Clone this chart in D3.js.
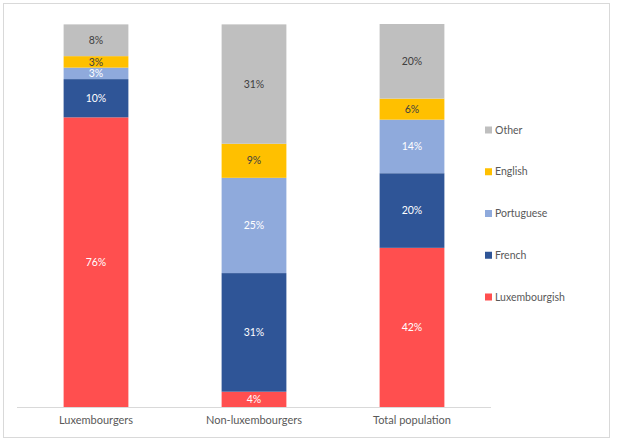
<!DOCTYPE html>
<html><head><meta charset="utf-8">
<script src="https://cdn.jsdelivr.net/npm/d3@7"></script>
<style>body{margin:0;background:#fff}svg{display:block}</style>
</head><body>
<svg id="c" width="621" height="446"></svg>
<script>
const categories = ["Luxembourgers", "Non-luxembourgers", "Total population"];
const seriesNames = ["Luxembourgish", "French", "Portuguese", "English", "Other"];
const luxembourgish = [75.7, 4.0, 41.6];
const french = [10.0, 31.0, 19.5];
const portuguese = [3.0, 24.9, 14.0];
const english = [3.0, 8.9, 5.5];
const other = [8.3, 31.2, 19.5];
const colors = ["#FF4F4F", "#2F5597", "#8FAADC", "#FFC000", "#BFBFBF"];
const labelColors = ["#ffffff", "#ffffff", "#ffffff", "#404040", "#404040"];

const seriesValues = [luxembourgish, french, portuguese, english, other];
const rows = categories.map((c, i) => {
  const r = {cat: c};
  seriesNames.forEach((s, j) => r[s] = seriesValues[j][i]);
  return r;
});
const stack = d3.stack().keys(seriesNames)(rows);
const maxSum = d3.max(rows, r => d3.sum(seriesNames, s => r[s]));

const svg = d3.select("#c");
const font = "Lato, 'Open Sans', sans-serif";

svg.append("rect").attr("x", 3.5).attr("y", 3.5).attr("width", 606).attr("height", 434)
  .attr("fill", "#fff").attr("stroke", "#D9D9D9").attr("stroke-width", 1);

const x = d3.scaleBand().domain(categories).range([17, 491]).paddingInner(0.59).paddingOuter(0.295);
const y = d3.scaleLinear().domain([0, maxSum]).range([407, 24]);

const g = svg.append("g");
stack.forEach((layer, j) => {
  const key = seriesNames[j];
  g.selectAll(null).data(layer).enter().append("rect")
    .attr("x", d => x(d.data.cat))
    .attr("width", x.bandwidth())
    .attr("y", d => y(d[1]))
    .attr("height", d => y(d[0]) - y(d[1]))
    .attr("fill", colors[j]);
  g.selectAll(null).data(layer).enter().append("text")
    .attr("x", d => x(d.data.cat) + x.bandwidth() / 2)
    .attr("y", d => (y(d[0]) + y(d[1])) / 2)
    .attr("dy", "0.35em")
    .attr("text-anchor", "middle")
    .attr("font-family", font).attr("font-size", 10.5)
    .attr("fill", labelColors[j])
    .text(d => Math.round(d.data[key]) + "%");
});

const xAxis = svg.append("g").attr("transform", "translate(0,407)")
  .call(d3.axisBottom(x).tickSize(0).tickPadding(9));
xAxis.select(".domain").attr("stroke", "#D9D9D9").attr("d", "M17,0.5H491");
xAxis.selectAll("text").attr("font-family", font).attr("font-size", 11).attr("fill", "#595959");

const legendY = d3.scalePoint().domain(seriesNames.slice().reverse()).range([130, 297]);
const leg = svg.append("g");
seriesNames.forEach((s, j) => {
  const yy = legendY(s);
  leg.append("rect").attr("x", 485).attr("y", yy - 3.5).attr("width", 7).attr("height", 7).attr("fill", colors[j]);
  leg.append("text").attr("x", 495).attr("y", yy).attr("dy", "0.35em")
    .attr("font-family", font).attr("font-size", 10.5).attr("fill", "#595959").text(s);
});
</script>
</body></html>
